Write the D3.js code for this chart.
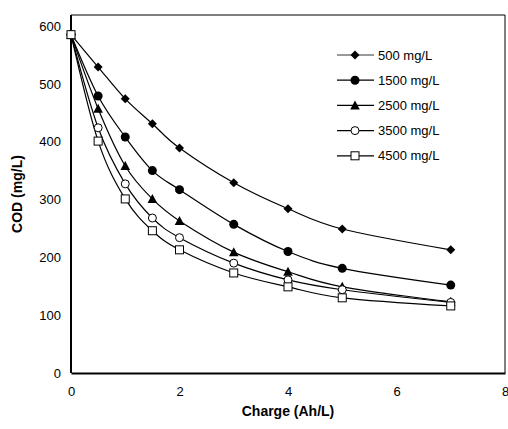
<!DOCTYPE html>
<html><head><meta charset="utf-8">
<script src="https://cdn.jsdelivr.net/npm/d3@7"></script>
<style>body{margin:0;background:#fff}svg{display:block}</style>
</head><body>
<svg id="c" width="508" height="429"></svg>
<script>
const charge = [0, 0.5, 1, 1.5, 2, 3, 4, 5, 7];
const seriesNames = ["500 mg/L", "1500 mg/L", "2500 mg/L", "3500 mg/L", "4500 mg/L"];
const cod500  = [585, 529, 474, 431, 389, 329, 284, 249, 213];
const cod1500 = [585, 479, 408, 350, 317, 257, 210, 181, 152];
const cod2500 = [585, 457, 358, 301, 263, 209, 175, 149, 123];
const cod3500 = [585, 424, 327, 268, 234, 190, 161, 144, 122];
const cod4500 = [585, 401, 301, 246, 213, 173, 149, 130, 116];
const markers = ["diamond", "circle", "triangle", "opencircle", "square"];
const xTicks = [0, 2, 4, 6, 8];
const yTicks = [0, 100, 200, 300, 400, 500, 600];

const allSeries = [cod500, cod1500, cod2500, cod3500, cod4500];
const svg = d3.select("#c");
const L = 71, R = 505, T = 15, B = 373;
const x = d3.scaleLinear().domain([0, 8]).range([L, R]);
const y = d3.scaleLinear().domain([0, 600]).range([B, 26]);

const font = "Arial, 'Liberation Sans', sans-serif";

// frame
svg.append("line").attr("x1", L).attr("x2", R).attr("y1", T).attr("y2", T).attr("stroke", "#000").attr("stroke-width", 1);
svg.append("line").attr("x1", R).attr("x2", R).attr("y1", T).attr("y2", B).attr("stroke", "#000").attr("stroke-width", 1);

// axes
const xAxis = svg.append("g").attr("transform", `translate(0,${B})`)
  .call(d3.axisBottom(x).tickValues(xTicks).tickSize(0).tickPadding(14).tickFormat(d3.format("d")));
xAxis.select(".domain").attr("stroke-width", 2);
xAxis.selectAll("text").attr("font-family", font).attr("font-size", 13).attr("fill", "#000");

const yAxis = svg.append("g").attr("transform", `translate(${L},0)`)
  .call(d3.axisLeft(y).tickValues(yTicks).tickSize(0).tickPadding(10).tickFormat(d3.format("d")));
yAxis.select(".domain").attr("stroke-width", 2).attr("d", `M0,${B}V${T}`);
yAxis.selectAll("text").attr("font-family", font).attr("font-size", 13).attr("fill", "#000");

// titles
svg.append("text").attr("x", (L + R) / 2).attr("y", 416).attr("text-anchor", "middle")
  .attr("font-family", font).attr("font-size", 14).attr("font-weight", "bold").text("Charge (Ah/L)");
svg.append("text").attr("transform", `translate(22,${(T + B) / 2}) rotate(-90)`).attr("text-anchor", "middle")
  .attr("font-family", font).attr("font-size", 14).attr("font-weight", "bold").text("COD (mg/L)");

const line = d3.line().x(d => x(d[0])).y(d => y(d[1])).curve(d3.curveCatmullRom.alpha(0));

function drawMarker(g, type, cx, cy) {
  if (type === "diamond") {
    g.append("path").attr("d", `M${cx},${cy-4.5}L${cx+4.5},${cy}L${cx},${cy+4.5}L${cx-4.5},${cy}Z`).attr("fill", "#000");
  } else if (type === "circle") {
    g.append("circle").attr("cx", cx).attr("cy", cy).attr("r", 4.5).attr("fill", "#000");
  } else if (type === "triangle") {
    g.append("path").attr("d", `M${cx},${cy-5}L${cx+4.8},${cy+4}L${cx-4.8},${cy+4}Z`).attr("fill", "#000");
  } else if (type === "opencircle") {
    g.append("circle").attr("cx", cx).attr("cy", cy).attr("r", 4).attr("fill", "#fff").attr("stroke", "#000").attr("stroke-width", 1);
  } else if (type === "square") {
    g.append("rect").attr("x", cx-4).attr("y", cy-4).attr("width", 8).attr("height", 8).attr("fill", "#fff").attr("stroke", "#000").attr("stroke-width", 1);
  }
}

allSeries.forEach((vals, i) => {
  const pts = charge.map((c, j) => [c, vals[j]]);
  svg.append("path").datum(pts).attr("d", line).attr("fill", "none").attr("stroke", "#000").attr("stroke-width", 1.2);
});
allSeries.forEach((vals, i) => {
  const g = svg.append("g");
  charge.forEach((c, j) => drawMarker(g, markers[i], x(c), y(vals[j])));
});

// legend
seriesNames.forEach((name, i) => {
  const ly = 55 + i * 25.2;
  const g = svg.append("g");
  g.append("line").attr("x1", 337).attr("x2", 374).attr("y1", ly).attr("y2", ly).attr("stroke", "#000").attr("stroke-width", i === 0 ? 0.8 : 1.2);
  drawMarker(g, markers[i], 355, ly);
  g.append("text").attr("x", 378).attr("y", ly + 4.5).attr("font-family", font).attr("font-size", 13).text(name);
});
</script>
</body></html>
